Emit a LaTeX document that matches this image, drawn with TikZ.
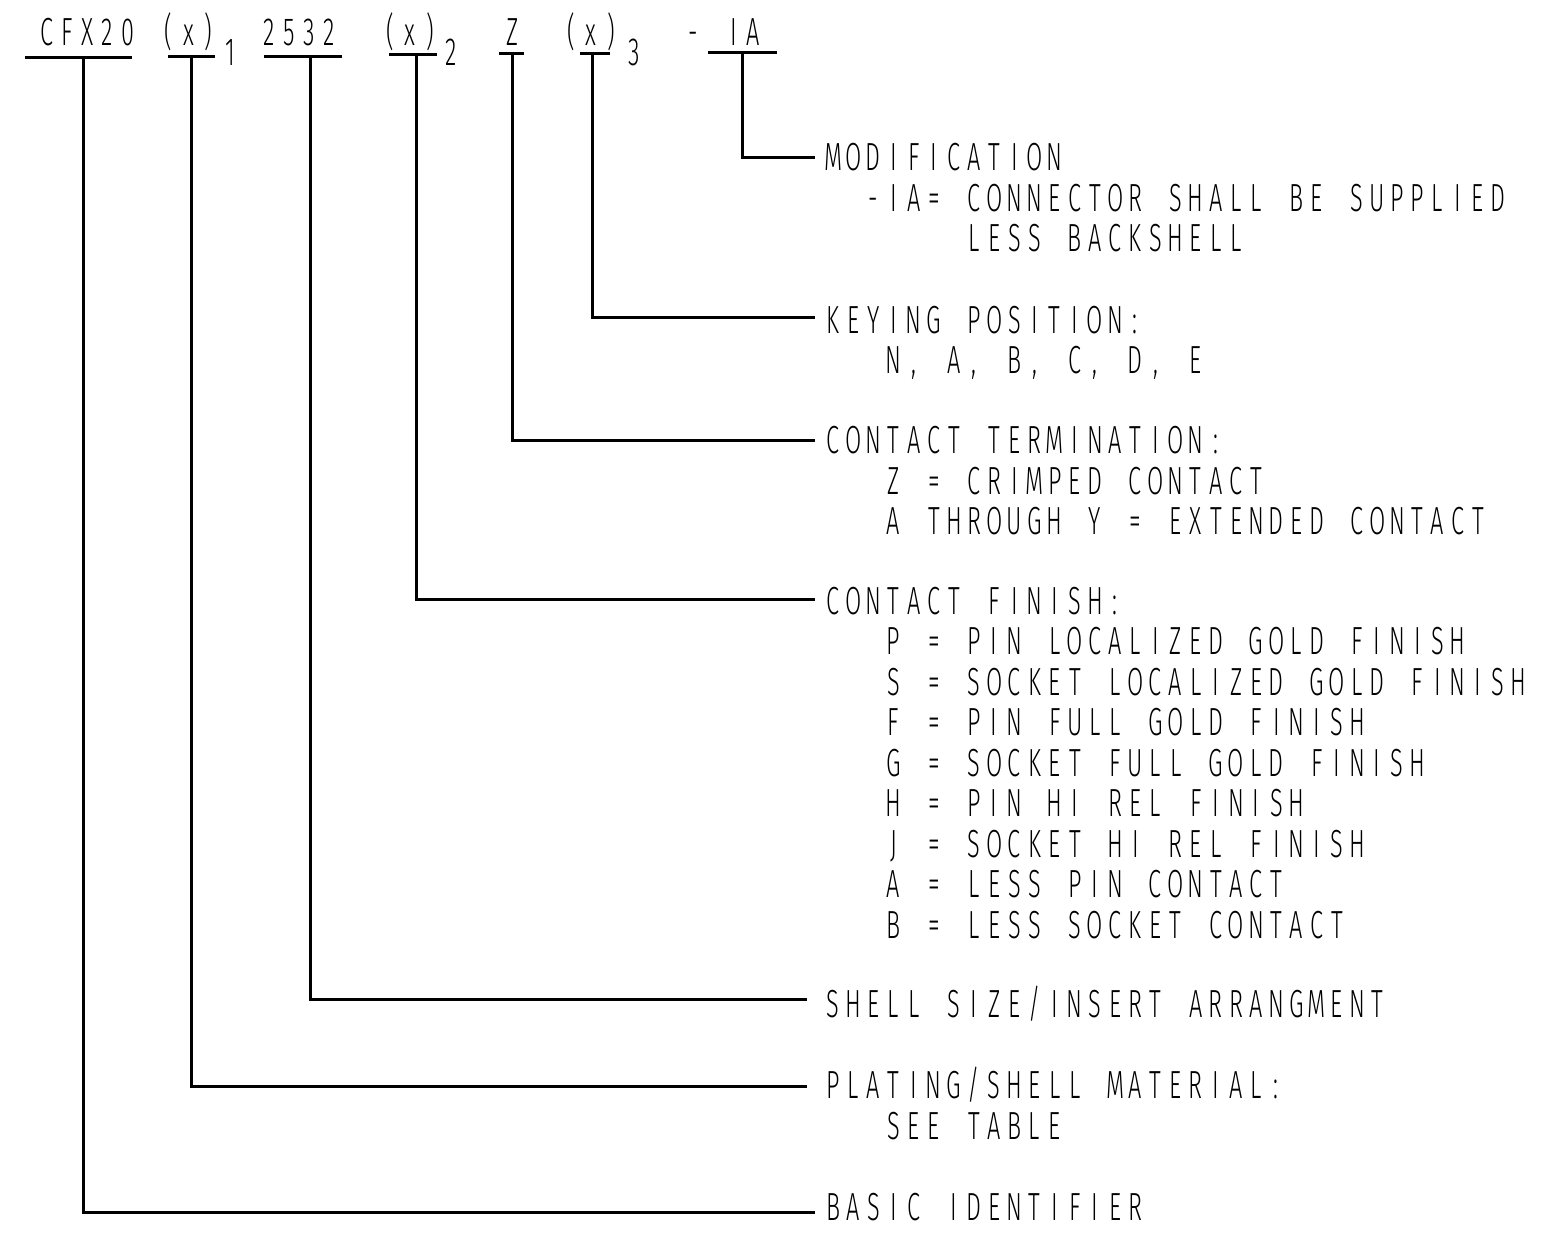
\documentclass[tikz,border=0pt]{standalone}
\usepackage{fontspec}
\IfFontExistsTF{Fira Sans Light}
 {\newfontfamily\cadfont{Fira Sans Light}[FakeStretch=0.6]\def\cadsz{39.2}\def\cadthin{}}
 {\newfontfamily\cadfont{DejaVu Sans}[FakeStretch=0.6]\def\cadsz{37.5}%
  \def\cadthin{\special{pdf:literal direct 2 Tr 1 1 1 RG 1 w}}}
\ExplSyntaxOn
\dim_new:N \l_cad_pitch_dim
\dim_set:Nn \l_cad_pitch_dim {20.15pt}
\NewDocumentCommand \cad {m}
 { \cadthin \str_map_inline:nn {#1} { \hbox_to_wd:nn {\l_cad_pitch_dim} {\hfil ##1 \hfil} } }
\ExplSyntaxOff
\begin{document}
\begin{tikzpicture}[x=1pt,y=-1pt,
  cadtext/.style={inner sep=0pt,outer sep=0pt,anchor=base west,
     font=\cadfont\fontsize{\cadsz}{\cadsz}\selectfont},
  leader/.style={line width=3pt,black},
  uline/.style={line width=3pt,black}]
\useasboundingbox (0,0) rectangle (1551,1240);
\def\p{20.15}
\def\lx{823}
% ---- part number row
\node[cadtext] (tCFX)  at (37,45)    {\cad{CFX20}};
\node[cadtext] (tX1)   at (158.4,45) {\cad{(x)}};
\node[cadtext] (s1)    at (220,65)   {\cad{1}};
\node[cadtext] (t2532) at (259,45)   {\cad{2532}};
\node[cadtext] (tX2)   at (380,45)   {\cad{(x)}};
\node[cadtext] (s2)    at (441,65)   {\cad{2}};
\node[cadtext] (tZ)    at (502,45)   {\cad{Z}};
\node[cadtext] (tX3)   at (561,45)   {\cad{(x)}};
\node[cadtext] (s3)    at (624,65)   {\cad{3}};
\node[cadtext] (tIA)   at (683,45)   {\cad{- IA}};
% ---- underlines
\coordinate (uCFXa) at (25,57);   \coordinate (uCFXb) at (132,57);
\coordinate (uX1a)  at (168,56);  \coordinate (uX1b)  at (215,56);
\coordinate (u25a)  at (264,56);  \coordinate (u25b)  at (342,56);
\coordinate (uX2a)  at (389,54);  \coordinate (uX2b)  at (437,54);
\coordinate (uZa)   at (499,53);  \coordinate (uZb)   at (524,53);
\coordinate (uX3a)  at (580,53);  \coordinate (uX3b)  at (610,53);
\coordinate (uIAa)  at (708,52);  \coordinate (uIAb)  at (777,52);
\foreach \a/\b in {uCFXa/uCFXb,uX1a/uX1b,u25a/u25b,uX2a/uX2b,uZa/uZb,uX3a/uX3b,uIAa/uIAb}
  \draw[uline] (\a) -- (\b);
% ---- leader start/end points
\coordinate (cIA)  at (742,52);  \coordinate (eIA)  at (815,157);
\coordinate (cX3)  at (592,53);  \coordinate (eX3)  at (815,317);
\coordinate (cZ)   at (512,53);  \coordinate (eZ)   at (815,440);
\coordinate (cX2)  at (416,54);  \coordinate (eX2)  at (815,599);
\coordinate (c25)  at (310,56);  \coordinate (e25)  at (807,999);
\coordinate (cX1)  at (191,56);  \coordinate (eX1)  at (807,1086);
\coordinate (cCFX) at (83,57);   \coordinate (eCFX) at (815,1212);
\foreach \a/\b in {cIA/eIA,cX3/eX3,cZ/eZ,cX2/eX2,c25/e25,cX1/eX1,cCFX/eCFX}
  \draw[leader] (\a) |- (\b);
% ---- labels
\node[cadtext] (mod)   at (\lx,170) {\cad{MODIFICATION}};
\node[cadtext] (mod1)  at ({\lx+2*\p},211) {\cad{-IA= CONNECTOR SHALL BE SUPPLIED}};
\node[cadtext] (mod2)  at ({\lx+7*\p},251) {\cad{LESS BACKSHELL}};
\node[cadtext] (key)   at (\lx,333) {\cad{KEYING POSITION:}};
\node[cadtext] (key1)  at ({\lx+3*\p},373) {\cad{N, A, B, C, D, E}};
\node[cadtext] (ct)    at (\lx,453) {\cad{CONTACT TERMINATION:}};
\node[cadtext] (ct1)   at ({\lx+3*\p},494) {\cad{Z = CRIMPED CONTACT}};
\node[cadtext] (ct2)   at ({\lx+3*\p},534) {\cad{A THROUGH Y = EXTENDED CONTACT}};
\node[cadtext] (cf)    at (\lx,614) {\cad{CONTACT FINISH:}};
\node[cadtext] (cf1)   at ({\lx+3*\p},654.5) {\cad{P = PIN LOCALIZED GOLD FINISH}};
\node[cadtext] (cf2)   at ({\lx+3*\p},695)   {\cad{S = SOCKET LOCALIZED GOLD FINISH}};
\node[cadtext] (cf3)   at ({\lx+3*\p},735.5) {\cad{F = PIN FULL GOLD FINISH}};
\node[cadtext] (cf4)   at ({\lx+3*\p},776)   {\cad{G = SOCKET FULL GOLD FINISH}};
\node[cadtext] (cf5)   at ({\lx+3*\p},816.5) {\cad{H = PIN HI REL FINISH}};
\node[cadtext] (cf6)   at ({\lx+3*\p},857)   {\cad{J = SOCKET HI REL FINISH}};
\node[cadtext] (cf7)   at ({\lx+3*\p},897.5) {\cad{A = LESS PIN CONTACT}};
\node[cadtext] (cf8)   at ({\lx+3*\p},938)   {\cad{B = LESS SOCKET CONTACT}};
\node[cadtext] (sh)    at (\lx,1017) {\cad{SHELL SIZE/INSERT ARRANGMENT}};
\node[cadtext] (pl)    at (\lx,1098) {\cad{PLATING/SHELL MATERIAL:}};
\node[cadtext] (pl1)   at ({\lx+3*\p},1139) {\cad{SEE TABLE}};
\node[cadtext] (bi)    at (\lx,1220) {\cad{BASIC IDENTIFIER}};
\end{tikzpicture}
\end{document}
